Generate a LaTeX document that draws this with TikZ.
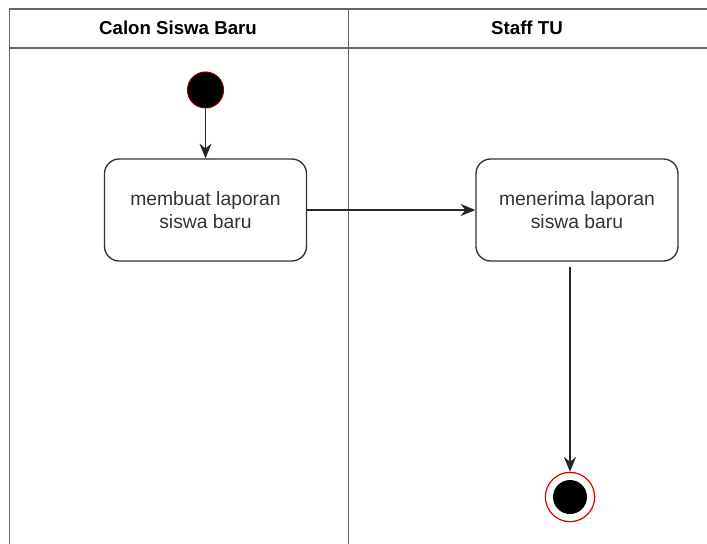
\documentclass[tikz,border=0pt]{standalone}
\usepackage{fontspec}
\setmainfont{Liberation Sans}
\usetikzlibrary{arrows.meta}

\tikzset{
  activity/.style={draw=black!80, rounded corners=11pt, line width=1pt,
    minimum width=151.5pt, minimum height=76.5pt, align=center,
    font=\fontsize{14.5}{17.5}\selectfont, text=black!80},
  startnode/.style={circle, fill=black, draw=red!50!black, line width=0.8pt,
    minimum size=27pt, inner sep=0pt},
  endnode/.style={circle, fill=white, draw=red!85!black, line width=0.9pt,
    minimum size=37pt, inner sep=0pt},
  flow/.style={draw=black!85, line width=0.9pt, -{Stealth[length=11pt,width=9pt]}},
  lane/.style={draw=black!60, line width=1.2pt}
}

\begin{document}
\begin{tikzpicture}[x=0.75pt, y=-0.75pt]
\useasboundingbox (0,0) rectangle (707,543);

% swimlanes
\draw[lane] (720,9) -- (9.5,9) -- (9.5,560);
\draw[lane] (9.5,48) -- (720,48);
\draw[lane] (348.5,9) -- (348.5,560);
\node(laneA) at(178,28) {\fontsize{14}{16}\selectfont\bfseries Calon Siswa Baru};
\node(laneB) at(527,28) {\fontsize{14}{16}\selectfont\bfseries Staff TU};

% activities
\node[startnode](start) at(205.5,90) {};
\node[activity](lapor) at(205.5,210) {membuat laporan\\siswa baru};
\node[activity](terima) at(577,210) {menerima laporan\\siswa baru};
\node[endnode](end) at(570,497) {};
\fill[black] (end.center) circle (17);

\draw[flow] (start) -- (lapor);
\draw[flow] (lapor) -- (terima);
\draw[flow] (terima.south -| end.north) ++(0,5) -- (end);

\end{tikzpicture}
\end{document}
